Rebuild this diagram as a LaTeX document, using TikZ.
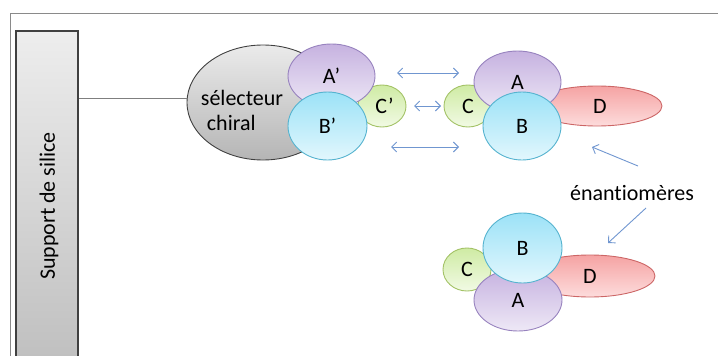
\documentclass[tikz,border=0pt]{standalone}
\usepackage{fontspec}
\setmainfont{Carlito}[Ligatures=NoCommon]
\usetikzlibrary{arrows.meta,shapes.geometric}

\definecolor{framegray}{HTML}{8A8A8A}
\definecolor{linegray}{HTML}{7F7F7F}
\definecolor{edgegray}{HTML}{404040}
\definecolor{arrowblue}{HTML}{7096D0}
\definecolor{purpletop}{HTML}{C6B2E0}
\definecolor{purplebot}{HTML}{EEE8F6}
\definecolor{purpleedge}{HTML}{9782BE}
\definecolor{cyantop}{HTML}{9CE2F7}
\definecolor{cyanbot}{HTML}{E2F7FD}
\definecolor{cyanedge}{HTML}{55B3CF}
\definecolor{greentop}{HTML}{CFEBA4}
\definecolor{greenbot}{HTML}{F1FAE4}
\definecolor{greenedge}{HTML}{A3C266}
\definecolor{redtop}{HTML}{F5A3A3}
\definecolor{redbot}{HTML}{FDDCDC}
\definecolor{rededge}{HTML}{CC6666}

\begin{document}
\begin{tikzpicture}[x=1pt, y=-1pt,
  font=\fontsize{22}{25}\selectfont, >={Straight Barb[length=5pt,width=10pt]},
  blob/.style={draw, ellipse, inner sep=0pt, line width=0.9pt},
  groupA/.style={blob, draw=purpleedge, top color=purpletop, bottom color=purplebot},
  groupB/.style={blob, draw=cyanedge, top color=cyantop, bottom color=cyanbot},
  groupC/.style={blob, draw=greenedge, top color=greentop, bottom color=greenbot},
  groupD/.style={blob, draw=rededge, top color=redtop, bottom color=redbot},
  selector/.style={blob, draw=edgegray, top color=gray!16, bottom color=gray!58},
  swap/.style={<->, draw=arrowblue, line width=0.9pt},
  pointer/.style={->, draw=arrowblue, line width=0.9pt}]
\useasboundingbox (0,0) rectangle (718,356);
\clip (0,0) rectangle (718,356);
\draw[framegray, line width=1.6pt] (10.5,370) -- (10.5,13.5) -- (730,13.5);

% support column
\node[draw=edgegray, line width=1.2pt, top color=gray!14, bottom color=gray!52,
  minimum width=62pt, minimum height=350pt, inner sep=0pt] (support) at (47,206) {};
\node[rotate=90] (supporttext) at ([xshift=2pt]support.center) {Support de silice};

% chiral selector
\node[selector, minimum width=152pt, minimum height=115pt] (sel) at (263,102.5) {};
\node[align=left, inner sep=0pt] (seltext) at (242,110) {sélecteur\\\hspace{6pt}chiral};
\node[groupC, minimum width=48pt, minimum height=42pt] (Cp) at (382,106) {\hspace{5pt}C’};
\node[groupA, minimum width=87pt, minimum height=64pt] (Ap) at (331.5,76) {A’};
\node[groupB, minimum width=79pt, minimum height=68pt] (Bp) at (327.5,126) {B’};
\draw[linegray, line width=0.8pt] (sel.177) -- (sel.177 -| support.east);

% first enantiomer
\node[groupD, minimum width=130pt, minimum height=40pt] (D1) at (597,106) {\hspace{6pt}D};
\node[groupC, minimum width=48pt, minimum height=42pt] (C1) at (468,106) {C};
\node[groupA, minimum width=87pt, minimum height=62pt] (A1) at (517.5,82) {A};
\node[groupB, minimum width=78pt, minimum height=68pt] (B1) at (522,126) {B};

% second enantiomer
\node[groupD, minimum width=130pt, minimum height=42pt] (D2) at (590,276) {D};
\node[groupC, minimum width=48pt, minimum height=43pt] (C2) at (467,269.5) {C};
\node[groupA, minimum width=88pt, minimum height=62pt] (A2) at (518,300) {A};
\node[groupB, minimum width=79pt, minimum height=70pt] (B2) at (522.5,248) {B};

% interactions
\coordinate (sw1) at (397,73);  \coordinate (se1) at (459,73);
\coordinate (sw2) at (414,106); \coordinate (se2) at (441,106);
\coordinate (sw3) at (391,147); \coordinate (se3) at (459,147);
\draw[swap] (sw1) -- (se1);
\draw[swap] (sw2) -- (se2);
\draw[swap] (sw3) -- (se3);

\node (enant) at (632,193) {énantiomères};
\coordinate (up1) at (638,166); \coordinate (up2) at (592,147);
\coordinate (dn1) at (646,208); \coordinate (dn2) at (608,243);
\draw[pointer] (up1) -- (up2);
\draw[pointer] (dn1) -- (dn2);
\end{tikzpicture}
\end{document}
